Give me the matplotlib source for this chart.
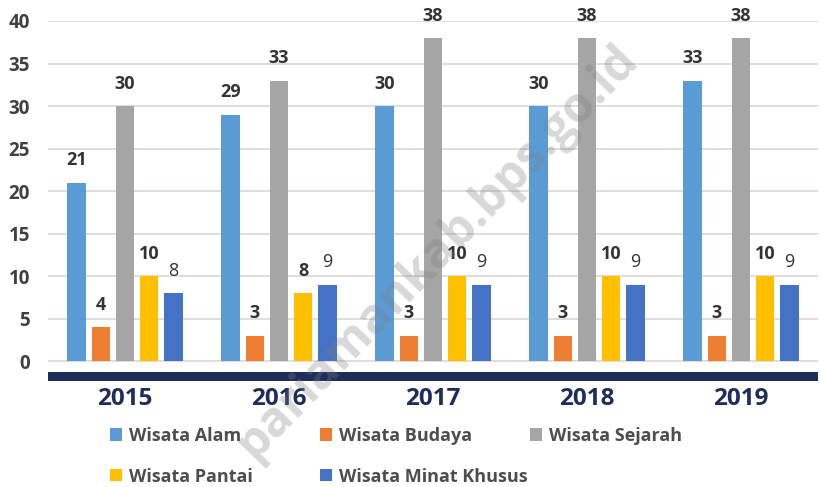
import matplotlib
matplotlib.use("Agg")
import matplotlib.pyplot as plt
from matplotlib.patches import Patch
import numpy as np

years = ["2015", "2016", "2017", "2018", "2019"]
series_names = ["Wisata Alam", "Wisata Budaya", "Wisata Sejarah", "Wisata Pantai", "Wisata Minat Khusus"]
wisata_alam = [21, 29, 30, 30, 33]
wisata_budaya = [4, 3, 3, 3, 3]
wisata_sejarah = [30, 33, 38, 38, 38]
wisata_pantai = [10, 8, 10, 10, 10]
wisata_minat_khusus = [8, 9, 9, 9, 9]
yticks = [0, 5, 10, 15, 20, 25, 30, 35, 40]

series = [wisata_alam, wisata_budaya, wisata_sejarah, wisata_pantai, wisata_minat_khusus]
colors = ["#5B9BD5", "#ED7D31", "#A5A5A5", "#FFC000", "#4472C4"]
label_weights = ["bold", "bold", "bold", "bold", "normal"]

plt.rcParams["font.family"] = ["Open Sans", "DejaVu Sans"]
TXT = "#404040"
NAVY = "#1F2D5A"

W, H = 821, 487
fig = plt.figure(figsize=(W / 100, H / 100), dpi=100)
ax = fig.add_axes([48 / W, 1 - 381 / H, (818 - 48) / W, (381 - 21) / H])

x = np.arange(len(years))
pitch = 0.156
width = 0.123
for i, (vals, c) in enumerate(zip(series, colors)):
    xs = x + (i - 2) * pitch
    ax.bar(xs, vals, width=width, color=c, zorder=3)
    for xi, v in zip(xs, vals):
        ax.annotate(str(v), (xi, v), xytext=(0, 16), textcoords="offset points",
                    ha="center", va="center", fontsize=13, fontweight=label_weights[i],
                    color="#333333", zorder=4)

ax.set_xlim(-0.5, len(years) - 0.5)
ax.set_ylim(-2.35, 40)
ax.set_yticks(yticks)
ax.set_yticklabels([str(t) for t in yticks], fontsize=13.5, fontweight="bold", color=TXT)
ax.set_xticks(x)
ax.set_xticklabels(years, fontsize=17.5, fontweight="bold", color=NAVY)
ax.tick_params(axis="y", length=0, pad=13)
ax.tick_params(axis="x", length=0, pad=4)
for t in yticks:
    ax.axhline(t, color="#DDD6D6", lw=1.2, zorder=1)
ax.axhspan(-2.35, -1.3, color=NAVY, zorder=2, lw=0)
for s in ax.spines.values():
    s.set_visible(False)

# legends (three columns at fixed positions)
cols = [[0, 3], [1, 4], [2]]
col_x = [110, 320, 530]
for cx, idxs in zip(col_x, cols):
    handles = [Patch(facecolor=colors[k], edgecolor="none", label=series_names[k]) for k in idxs]
    leg = fig.legend(handles=handles, loc="upper left", bbox_to_anchor=(cx / W, 1 - 427 / H),
                     frameon=False, fontsize=13, handlelength=0.68, handleheight=0.68,
                     handletextpad=0.35, labelspacing=1.25, borderpad=0, borderaxespad=0)
    for t in leg.get_texts():
        t.set_color("#4D4D4D")
        t.set_fontweight("bold")

# watermark
fig.text(630 / W, 1 - 52 / H, "pariamankab.bps.go.id", rotation=46,
         rotation_mode="anchor", ha="right", va="center", fontsize=35,
         fontweight="bold", color="#7F7F7F", alpha=0.3, zorder=10)

fig.savefig("out.png", dpi=100)
